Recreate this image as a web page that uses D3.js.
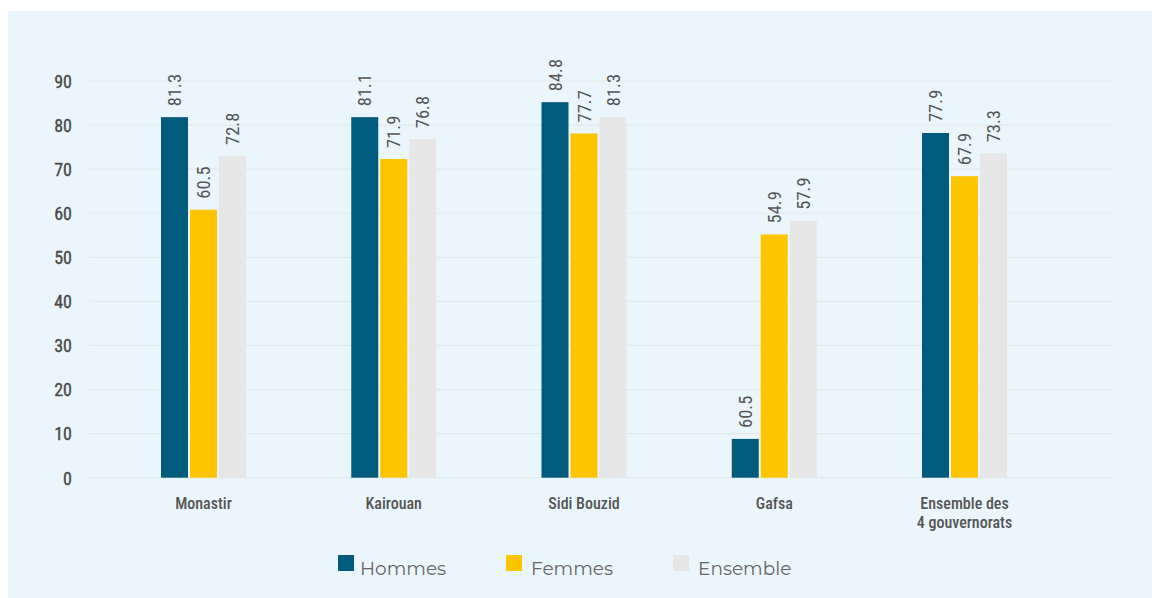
<!DOCTYPE html>
<html><head><meta charset="utf-8">
<script src="https://cdn.jsdelivr.net/npm/d3@7"></script>
<style>
html,body{margin:0;padding:0;background:#fff;}
svg{display:block;}
</style></head>
<body>
<svg id="chart" width="1152" height="598"></svg>
<script>
const categories = ["Monastir", "Kairouan", "Sidi Bouzid", "Gafsa", "Ensemble des\n4 gouvernorats"];
const seriesNames = ["Hommes", "Femmes", "Ensemble"];
const hommes = [81.8, 81.8, 85.2, 8.8, 78.2];
const femmes = [60.8, 72.3, 78.1, 55.2, 68.4];
const ensemble = [73.0, 76.8, 81.8, 58.3, 73.6];
const hommesLabels = ["81.3", "81.1", "84.8", "60.5", "77.9"];
const femmesLabels = ["60.5", "71.9", "77.7", "54.9", "67.9"];
const ensembleLabels = ["72.8", "76.8", "81.3", "57.9", "73.3"];
const yTicks = [0, 10, 20, 30, 40, 50, 60, 70, 80, 90];
const colors = ["#015B7D", "#FDC500", "#E6E6E6"];

const svg = d3.select("#chart");
svg.append("rect").attr("x", 8).attr("y", 11).attr("width", 1144).attr("height", 587).attr("fill", "#EAF6FB");

const cond = "'Roboto Condensed','Liberation Sans Narrow','DejaVu Sans Condensed',sans-serif";
const y = d3.scaleLinear().domain([0, 90]).range([477.7, 81]);
const x = d3.scalePoint().domain(categories).range([203.5, 964.5]);
const bw = 27, gap = 2;

// grid
svg.append("g").selectAll("line").data(yTicks).join("line")
  .attr("x1", 89).attr("x2", 1112)
  .attr("y1", d => y(d)).attr("y2", d => y(d))
  .attr("stroke", "#E1E9EC").attr("stroke-width", 1.2);

// y axis labels
const yAxis = d3.axisLeft(y).tickValues(yTicks).tickSize(0).tickPadding(0);
const ya = svg.append("g").attr("transform", "translate(72,0)").call(yAxis);
ya.select(".domain").remove();
ya.selectAll("text").attr("font-family", cond).attr("font-size", 18).attr("font-weight", "normal")
  .attr("fill", "#4a4a4a").attr("stroke", "#4a4a4a").attr("stroke-width", 0.35).attr("dy", "0.35em");

const series = [hommes, femmes, ensemble];
const labels = [hommesLabels, femmesLabels, ensembleLabels];
series.forEach((vals, si) => {
  const off = (si - 1) * (bw + gap) - bw / 2;
  const g = svg.append("g");
  g.selectAll("rect").data(vals).join("rect")
    .attr("x", (d, i) => x(categories[i]) + off)
    .attr("width", bw)
    .attr("y", d => y(d))
    .attr("height", d => y(0) - y(d))
    .attr("fill", colors[si]);
  g.selectAll("text").data(vals).join("text")
    .attr("transform", (d, i) => `translate(${x(categories[i]) + off + bw / 2 + 6.5},${y(d) - 11}) rotate(-90)`)
    .attr("font-family", cond).attr("font-size", 18.5).attr("fill", "#555")
    .text((d, i) => labels[si][i]);
});

// category labels
const xg = svg.append("g");
categories.forEach(c => {
  const t = xg.append("text").attr("x", x(c)).attr("y", 509)
    .attr("text-anchor", "middle").attr("font-family", cond).attr("font-size", 16)
    .attr("font-weight", 500).attr("fill", "#555");
  c.split("\n").forEach((line, i) => {
    t.append("tspan").attr("x", x(c)).attr("dy", i === 0 ? 0 : 19).text(line);
  });
});

// legend
const legX = [338, 506, 673];
seriesNames.forEach((n, i) => {
  svg.append("rect").attr("x", legX[i]).attr("y", 555).attr("width", 16).attr("height", 16).attr("fill", colors[i]);
  svg.append("text").attr("x", legX[i] + 22 + (i > 0 ? 3 : 0)).attr("y", 575)
    .attr("font-family", "Montserrat,'Noto Sans',sans-serif").attr("font-size", 18.5)
    .attr("fill", "#666").text(n);
});
</script>
</body></html>
